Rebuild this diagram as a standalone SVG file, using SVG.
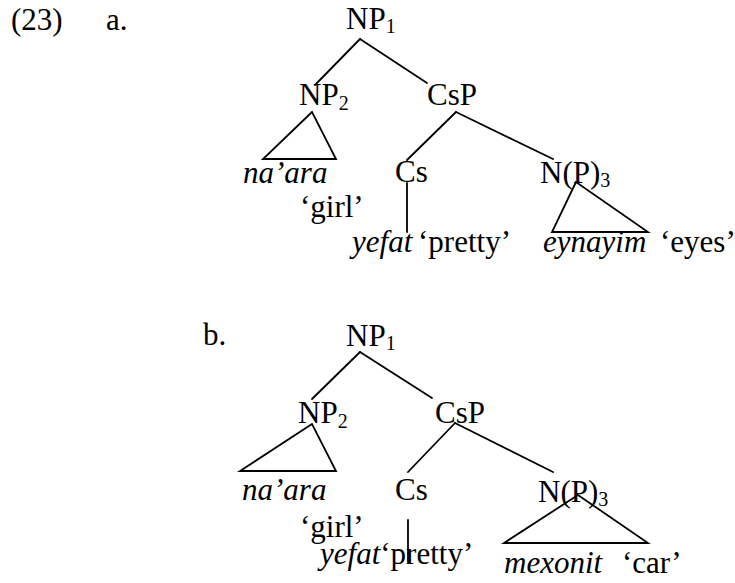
<svg xmlns="http://www.w3.org/2000/svg" width="735" height="583" viewBox="0 0 735 583" font-family="'Liberation Serif', 'Times New Roman', 'DejaVu Serif', serif">
<style>
text{font-family:"Liberation Serif","Times New Roman","DejaVu Serif",serif;font-size:31px;fill:#000}
.i{font-style:italic}
.sub{font-size:20px}
.e line,.e polygon{stroke:#000;stroke-width:1.8;fill:none;stroke-linecap:round}
</style>
<rect width="735" height="583" fill="#fff"/>
<g id="labels">
<text x="11" y="29.5">(23)</text>
<text x="106" y="29.5">a.</text>
<text x="203" y="345">b.</text>
</g>
<g class="e" id="connectors">
<line x1="360" y1="39" x2="315" y2="85"/>
<line x1="360" y1="39" x2="427" y2="83"/>
<polygon points="312,112 263,159 336,159"/>
<line x1="456" y1="112" x2="407" y2="160"/>
<line x1="456" y1="112" x2="553" y2="159"/>
<line x1="407" y1="183" x2="407" y2="232"/>
<polygon points="576,182 552,232 648,232"/>
<line x1="360" y1="352" x2="312" y2="399"/>
<line x1="360" y1="352" x2="432" y2="398"/>
<polygon points="312,424 240,471 336,471"/>
<line x1="455" y1="423" x2="408" y2="472"/>
<line x1="455" y1="423" x2="553" y2="472"/>
<line x1="408" y1="520" x2="408" y2="562"/>
<polygon points="578,495 504,543 648,543"/>
</g>
<g id="a-NP1"><text x="346" y="28.5">NP<tspan class="sub" dy="4">1</tspan></text></g>
<g id="a-NP2"><text x="299" y="105">NP<tspan class="sub" dy="5">2</tspan></text></g>
<g id="a-CsP"><text x="427" y="105">CsP</text></g>
<g id="a-naara"><text class="i" x="243" y="183">na’ara</text><text x="300" y="217">‘girl’</text></g>
<g id="a-Cs"><text x="395" y="182">Cs</text></g>
<g id="a-NP3"><text x="540" y="183">N(P)<tspan class="sub" dy="4">3</tspan></text></g>
<g id="a-yefat"><text class="i" x="352" y="252">yefat</text><text x="418" y="252">‘pretty’</text></g>
<g id="a-eynayim"><text class="i" x="543" y="252">eynayim</text><text x="660" y="252">‘eyes’</text></g>
<g id="b-NP1"><text x="346" y="346">NP<tspan class="sub" dy="4">1</tspan></text></g>
<g id="b-NP2"><text x="298" y="423">NP<tspan class="sub" dy="5">2</tspan></text></g>
<g id="b-CsP"><text x="435" y="423">CsP</text></g>
<g id="b-naara"><text class="i" x="242" y="500">na’ara</text><text x="300" y="537">‘girl’</text></g>
<g id="b-Cs"><text x="395" y="500">Cs</text></g>
<g id="b-NP3"><text x="538" y="502">N(P)<tspan class="sub" dy="4">3</tspan></text></g>
<g id="b-yefat"><text class="i" x="320" y="564">yefat<tspan font-style="normal">‘pretty’</tspan></text></g>
<g id="b-mexonit"><text class="i" x="504" y="573">mexonit</text><text x="622" y="573">‘car’</text></g>
</svg>
